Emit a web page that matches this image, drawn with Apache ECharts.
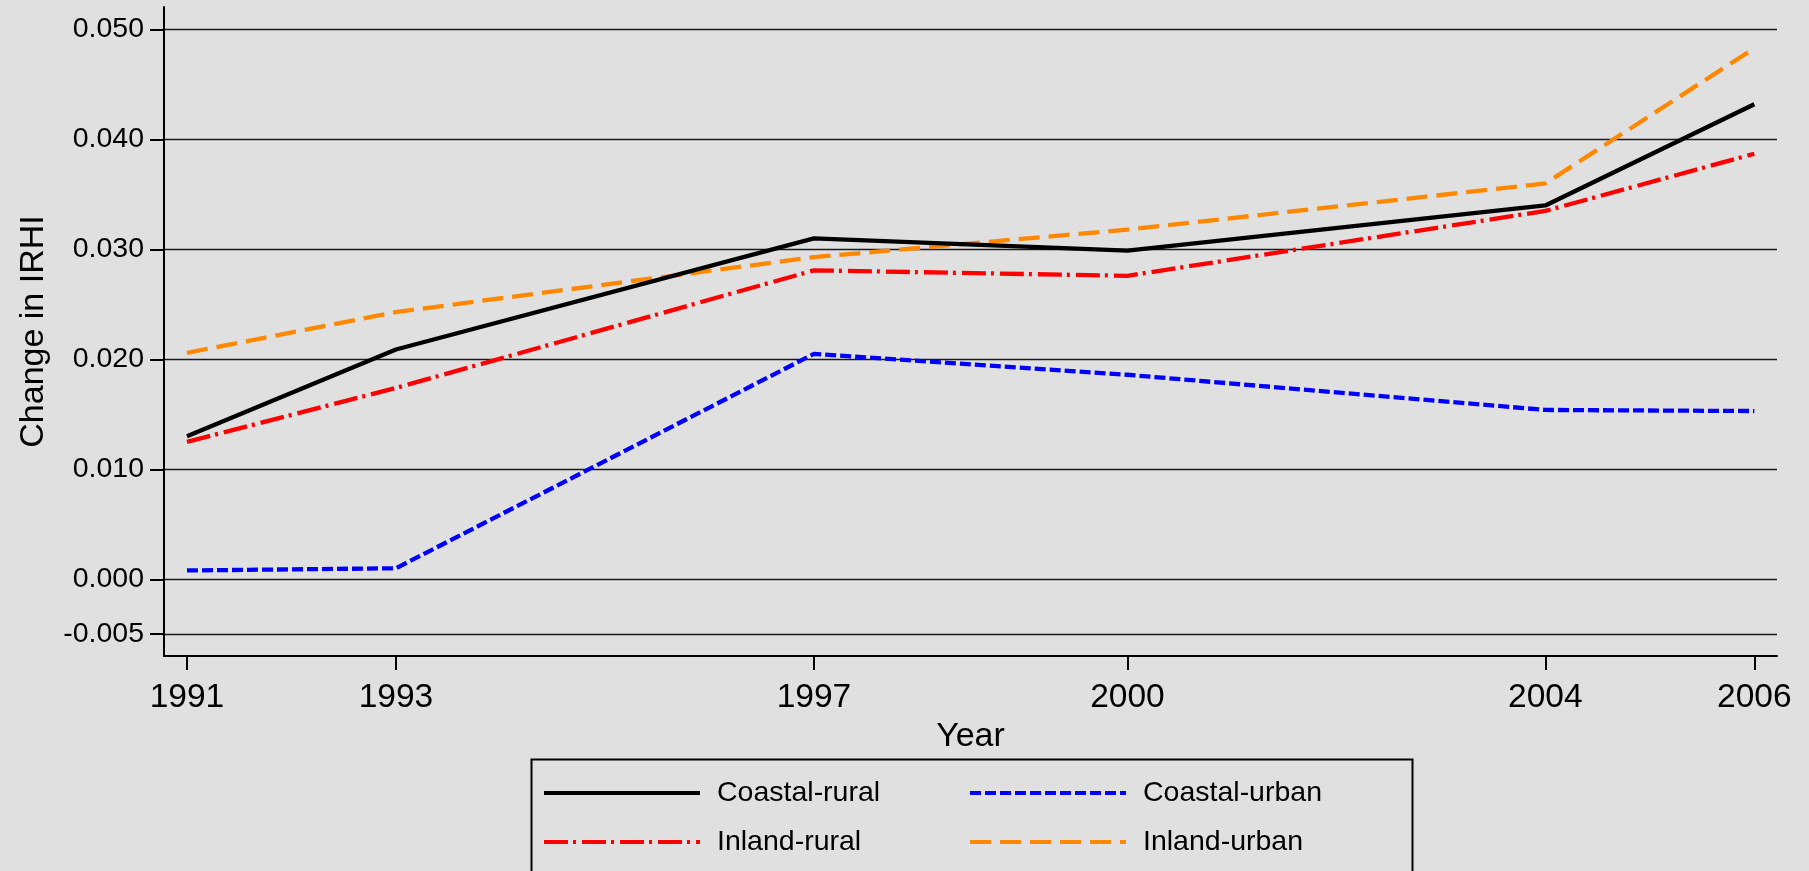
<!DOCTYPE html>
<html>
<head>
<meta charset="utf-8">
<script src="https://cdn.jsdelivr.net/npm/echarts@6/dist/echarts.min.js"></script>
<style>
html,body{margin:0;padding:0;background:#e0e0e0;}
#chart{width:1809px;height:871px;}
</style>
</head>
<body>
<div id="chart"></div>
<script>
// ---- data ----
const years = [1991, 1993, 1997, 2000, 2004, 2006];
const coastalRural = [0.0130, 0.0209, 0.0310, 0.0299, 0.0340, 0.0432];
const coastalUrban = [0.0008, 0.0010, 0.0205, 0.0186, 0.0154, 0.0153];
const inlandRural  = [0.0125, 0.0174, 0.0281, 0.0276, 0.0335, 0.0387];
const inlandUrban  = [0.0206, 0.0243, 0.0293, 0.0318, 0.0360, 0.0483];
const yTicks = [-0.005, 0, 0.01, 0.02, 0.03, 0.04, 0.05];
const xTicks = [1991, 1993, 1997, 2000, 2004, 2006];
const seriesNames = ['Coastal-rural', 'Coastal-urban', 'Inland-rural', 'Inland-urban'];

const pairs = vals => years.map((y, i) => [y, vals[i]]);
const FONT = '"Liberation Sans", Arial, Helvetica, sans-serif';

const chart = echarts.init(document.getElementById('chart'), null, {renderer: 'canvas'});
const legendCommon = {
  orient: 'vertical',
  padding: 0,
  itemWidth: 156,
  itemHeight: 30,
  itemGap: 19,
  textStyle: {fontFamily: FONT, fontSize: 28.5, color: '#000', padding: [0, 0, 0, 12], lineHeight: 30},
  lineStyle: {width: 4},
  itemStyle: {opacity: 0, borderWidth: 0},
  selectedMode: false
};
chart.setOption({
  animation: false,
  backgroundColor: '#e0e0e0',
  grid: {left: 164, right: 32, top: 7, bottom: 215, containLabel: false},
  graphic: [{
    type: 'rect', left: 529, top: 757, silent: true,
    shape: {width: 881, height: 140},
    style: {fill: 'none', stroke: '#000', lineWidth: 2}
  }],
  legend: [
    Object.assign({}, legendCommon, {left: 542, top: 778, data: [seriesNames[0], seriesNames[2]]}),
    Object.assign({}, legendCommon, {left: 968, top: 778, data: [seriesNames[1], seriesNames[3]]})
  ],
  xAxis: {
    type: 'value', min: 1990.78, max: 2006.217,
    name: 'Year', nameLocation: 'middle', nameGap: 55,
    nameTextStyle: {fontFamily: FONT, fontSize: 34, color: '#000'},
    axisLine: {show: true, onZero: false, lineStyle: {color: '#000', width: 2}},
    axisTick: {show: true, length: 14, customValues: xTicks, lineStyle: {color: '#000', width: 2}},
    axisLabel: {customValues: xTicks, margin: 25, fontFamily: FONT, fontSize: 33.5, color: '#000', formatter: v => String(Math.round(v))},
    splitLine: {show: false}
  },
  yAxis: {
    type: 'value', min: -0.00698, max: 0.05205,
    name: 'Change in IRHI', nameLocation: 'middle', nameGap: 113, nameRotate: 90,
    nameTextStyle: {fontFamily: FONT, fontSize: 34, color: '#000'},
    axisLine: {show: true, onZero: false, lineStyle: {color: '#000', width: 2}},
    axisTick: {show: true, length: 14, customValues: yTicks, lineStyle: {color: '#000', width: 2}},
    axisLabel: {customValues: yTicks, margin: 20, fontFamily: FONT, fontSize: 28.5, color: '#000', formatter: v => v.toFixed(3)},
    splitLine: {show: true, lineStyle: {color: '#1a1a1a', width: 1.3}}
  },
  series: [
    {name: seriesNames[0], type: 'line', data: pairs(coastalRural), symbol: 'none', z: 4,
     lineStyle: {color: '#000000', width: 4.3, type: 'solid'}, itemStyle: {color: '#000000'}},
    {name: seriesNames[1], type: 'line', data: pairs(coastalUrban), symbol: 'none', z: 3,
     lineStyle: {color: '#0000ff', width: 4.3, type: [11, 4]}, itemStyle: {color: '#0000ff'}},
    {name: seriesNames[2], type: 'line', data: pairs(inlandRural), symbol: 'none', z: 3,
     lineStyle: {color: '#ff0000', width: 4.3, type: [24, 5, 3, 6]}, itemStyle: {color: '#ff0000'}},
    {name: seriesNames[3], type: 'line', data: pairs(inlandUrban), symbol: 'none', z: 3,
     lineStyle: {color: '#ff8800', width: 4.3, type: [21, 9]}, itemStyle: {color: '#ff8800'}}
  ]
});
</script>
</body>
</html>
